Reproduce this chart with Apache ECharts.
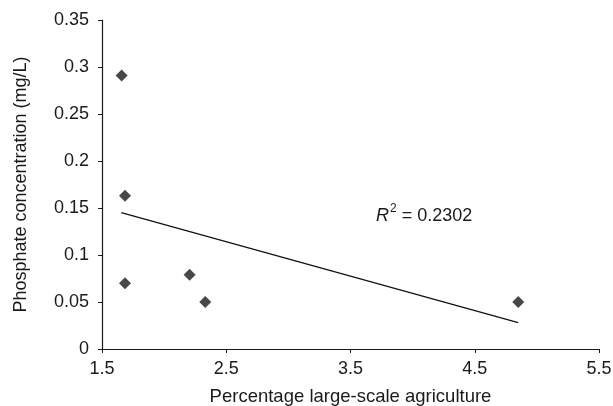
<!DOCTYPE html>
<html>
<head>
    <meta charset="UTF-8">
    <title>Phosphate vs agriculture</title>
    <script src="https://cdn.jsdelivr.net/npm/echarts@6/dist/echarts.min.js"></script>
    <style>
        html, body { margin: 0; padding: 0; background: #fff; }
        #chart { width: 613px; height: 406px; }
    </style>
</head>
<body>
<div id="chart"></div>
<script type="text/javascript">
    // 数据
    var xVals = [1.658, 1.685, 1.685, 2.205, 2.331, 4.85];
    var yVals = [0.291, 0.163, 0.070, 0.079, 0.050, 0.050];
    // trend line end points
    var trendX = [1.655, 4.85];
    var trendY = [0.145, 0.028];
    var r2Text = '0.2302';

    var points = xVals.map(function (x, i) { return [x, yVals[i]]; });
    var trend = trendX.map(function (x, i) { return [x, trendY[i]]; });

    var font = '"Liberation Sans", Arial, sans-serif';
    var myChart = echarts.init(document.getElementById('chart'));
    var option = {
        animation: false,
        grid: { left: 102, right: 14, top: 20, bottom: 57, outerBoundsMode: 'none' },
        xAxis: {
            type: 'value',
            min: 1.5,
            max: 5.5,
            interval: 1,
            name: 'Percentage large-scale agriculture',
            nameLocation: 'middle',
            nameGap: 38,
            nameTextStyle: { color: '#1a1a1a', fontSize: 18.5, fontFamily: font },
            axisLine: { lineStyle: { color: '#1a1a1a', width: 1.2 } },
            axisTick: { show: true, length: 4, lineStyle: { color: '#1a1a1a' } },
            axisLabel: { color: '#1a1a1a', fontSize: 18, fontFamily: font, margin: 11 },
            splitLine: { show: false }
        },
        yAxis: {
            type: 'value',
            min: 0,
            max: 0.35,
            interval: 0.05,
            name: 'Phosphate concentration (mg/L)',
            nameLocation: 'middle',
            nameGap: 72,
            nameTextStyle: { color: '#1a1a1a', fontSize: 18, fontFamily: font },
            axisLine: { show: true, lineStyle: { color: '#1a1a1a', width: 1.2 } },
            axisTick: { show: true, length: 4, lineStyle: { color: '#1a1a1a' } },
            axisLabel: { color: '#1a1a1a', fontSize: 18, fontFamily: font, margin: 13 },
            splitLine: { show: false }
        },
        series: [
            {
                name: 'trend',
                type: 'line',
                data: trend,
                symbol: 'none',
                lineStyle: { color: '#111', width: 1.2 },
                z: 1
            },
            {
                name: 'phosphate',
                type: 'scatter',
                data: points,
                symbol: 'diamond',
                symbolSize: 12,
                itemStyle: { color: '#1a1a1a' },
                z: 2
            }
        ],
        graphic: [
            {
                type: 'text',
                left: 376,
                top: 203,
                style: {
                    text: '{i|R}{s|2}{n| = ' + r2Text + '}',
                    rich: {
                        i: { fontSize: 18, fontStyle: 'italic', fontFamily: font, fill: '#1a1a1a', lineHeight: 22, verticalAlign: 'bottom' },
                        s: { fontSize: 12, fontFamily: font, fill: '#1a1a1a', lineHeight: 22, verticalAlign: 'top', padding: [0, 0, 0, 1] },
                        n: { fontSize: 18, fontFamily: font, fill: '#1a1a1a', lineHeight: 22, verticalAlign: 'bottom' }
                    }
                }
            }
        ]
    };
    myChart.setOption(option);
</script>
</body>
</html>
